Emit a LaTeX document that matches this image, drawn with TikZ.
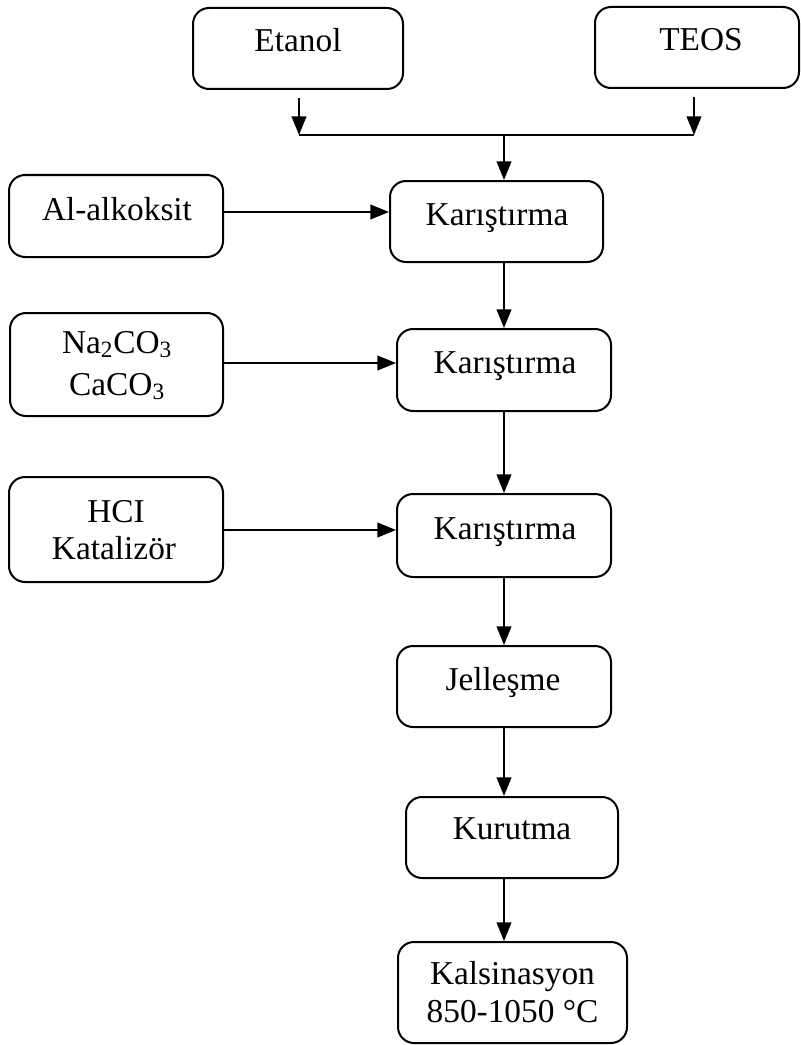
\documentclass[tikz,border=0pt]{standalone}
\usepackage{fontspec}
\setmainfont{Liberation Serif}
\usetikzlibrary{arrows.meta}
\tikzset{
  bx/.style 2 args={draw, line width=1.5pt, rounded corners=12pt, inner sep=0pt,
    minimum width={#1*0.75pt}, minimum height={#2*0.75pt}},
  txt/.style={anchor=base, inner sep=0pt, font=\fontsize{25}{30}\selectfont},
  ln/.style={line width=1.5pt},
  arr/.style={line width=1.5pt, -{Triangle[length=14pt,width=11pt]}}
}
\begin{document}
\begin{tikzpicture}[x=0.75pt,y=-0.75pt]
\useasboundingbox (0,0) rectangle (800,1045);
% boxes
\node[bx={210}{81}] (etanol) at (298,48.5) {};
\node[bx={204}{81}] (teos) at (697,47.5) {};
\node[bx={214}{82}] (al) at (116,216) {};
\node[bx={213}{81}] (k1) at (496.5,221.5) {};
\node[bx={213}{103}] (na) at (116.5,364.5) {};
\node[bx={214}{82}] (k2) at (504,370) {};
\node[bx={214}{105}] (hcl) at (116,529.5) {};
\node[bx={214}{83}] (k3) at (504,535.5) {};
\node[bx={214}{81}] (jel) at (504,686.5) {};
\node[bx={212}{81}] (kur) at (512,837.5) {};
\node[bx={229}{101}] (kal) at (512.5,992.5) {};
% texts
\node[txt] (tetanol) at (298,52) {Etanol};
\node[txt] (tteos) at (701,51) {TEOS};
\node[txt] (tal) at (117,220) {Al-alkoksit};
\node[txt] (tk1) at (497,225) {Karıştırma};
\node[txt] (tna1) at (117,353) {Na\textsubscript{2}CO\textsubscript{3}};
\node[txt] (tna2) at (117,395) {CaCO\textsubscript{3}};
\node[txt] (tk2) at (505,373) {Karıştırma};
\node[txt] (thcl1) at (116,522) {HCI};
\node[txt] (thcl2) at (114,559) {Katalizör};
\node[txt] (tk3) at (505,539) {Karıştırma};
\node[txt] (tjel) at (503,690) {Jelleşme};
\node[txt] (tkur) at (512,839) {Kurutma};
\node[txt] (tkal1) at (512.5,984) {Kalsinasyon};
\node[txt] (tkal2) at (512.5,1022) {850-1050 °C};
% coordinates
\coordinate (jl) at (299,135);
\coordinate (jr) at (694,135);
\coordinate (jm) at (504,135);
\coordinate (spine) at (504,0);
\coordinate (r1) at (0,212);
\coordinate (r2) at (0,363);
\coordinate (r3) at (0,530);
% connectors
\draw[arr, shorten <=6pt] (etanol.south -| jl) -- (jl);
\draw[arr, shorten <=6pt] (teos.south -| jr) -- (jr);
\draw[ln] (jl) -- (jr);
\draw[arr] (jm) -- (k1.north -| jm);
\draw[arr] (al.east |- r1) -- (k1.west |- r1);
\draw[arr] (na.east |- r2) -- (k2.west |- r2);
\draw[arr] (hcl.east |- r3) -- (k3.west |- r3);
\draw[arr] (k1.south -| spine) -- (k2.north -| spine);
\draw[arr] (k2.south -| spine) -- (k3.north -| spine);
\draw[arr] (k3.south -| spine) -- (jel.north -| spine);
\draw[arr] (jel.south -| spine) -- (kur.north -| spine);
\draw[arr] (kur.south -| spine) -- (kal.north -| spine);
\end{tikzpicture}
\end{document}
